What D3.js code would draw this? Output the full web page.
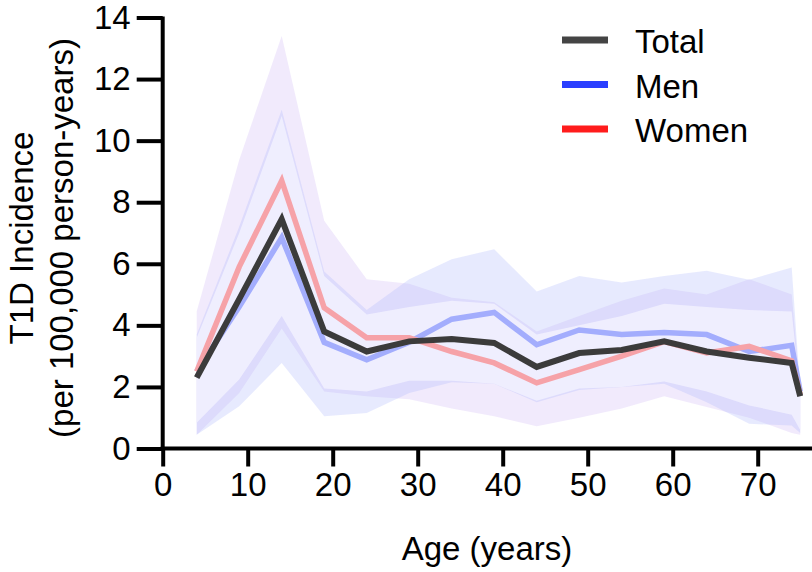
<!DOCTYPE html>
<html>
<head>
<meta charset="utf-8">
<script src="https://cdn.jsdelivr.net/npm/d3@7"></script>
<style>
  html, body { margin: 0; padding: 0; background: #fff; }
  svg { display: block; }
  text { font-family: "Liberation Sans", Arial, Helvetica, sans-serif; fill: #000; }
</style>
</head>
<body>
<svg id="chart" width="812" height="572"></svg>
<script>
const ages = [4, 9, 14, 19, 24, 29, 34, 39, 44, 49, 54, 59, 64, 69, 74, 75];
const totalVals = [2.3, 4.85, 7.45, 3.8, 3.15, 3.48, 3.56, 3.43, 2.65, 3.1, 3.2, 3.48, 3.15, 2.95, 2.78, 1.7];
const menVals   = [2.5, 4.6, 6.85, 3.45, 2.88, 3.45, 4.2, 4.42, 3.37, 3.85, 3.7, 3.77, 3.7, 3.15, 3.35, 1.85];
const womenVals = [2.5, 5.9, 8.7, 4.57, 3.6, 3.6, 3.15, 2.78, 2.13, 2.56, 3.0, 3.47, 3.1, 3.32, 2.85, 1.75];

const totalUpper = [3.6, 7.0, 10.8, 5.6, 4.35, 4.6, 4.8, 4.7, 3.7, 4.0, 4.3, 4.7, 4.6, 4.5, 4.45, 1.8];
const totalLower = [0.84, 2.24, 4.3, 1.95, 1.85, 2.2, 2.2, 2.1, 1.55, 1.95, 2.0, 2.18, 1.85, 1.4, 1.1, 0.6];
const menUpper   = [3.7, 7.2, 11.0, 5.75, 4.5, 5.5, 6.15, 6.47, 5.1, 5.6, 5.39, 5.6, 5.77, 5.48, 5.88, 1.9];
const menLower   = [0.45, 1.37, 2.78, 1.05, 1.15, 1.8, 2.15, 2.1, 1.5, 1.9, 2.0, 2.1, 1.5, 0.8, 0.75, 0.5];
const womenUpper = [4.45, 9.37, 13.4, 7.4, 5.5, 5.35, 4.9, 4.75, 3.8, 4.3, 4.8, 5.2, 5.0, 5.5, 5.0, 1.9];
const womenLower = [0.45, 1.8, 3.9, 1.85, 1.7, 1.6, 1.3, 1.05, 0.72, 1.0, 1.3, 1.7, 1.35, 1.0, 0.5, 0.45];

const xTicks = [0, 10, 20, 30, 40, 50, 60, 70];
const yTicks = [0, 2, 4, 6, 8, 10, 12, 14];
const legendLabels = ["Total", "Men", "Women"];

const svg = d3.select("#chart");
const x = d3.scaleLinear().domain([0, 76.5]).range([162.7, 812.95]);
const y = d3.scaleLinear().domain([0, 14]).range([448.5, 17.5]);

function bandData(lo, hi) { return ages.map((a, i) => ({ a, lo: lo[i], hi: hi[i] })); }
const area = d3.area().x(d => x(d.a)).y0(d => y(d.lo)).y1(d => y(d.hi));

// confidence bands
svg.append("path").attr("d", area(bandData(womenLower, womenUpper)))
  .attr("fill", "rgb(200,170,245)").attr("fill-opacity", 0.25);
svg.append("path").attr("d", area(bandData(menLower, menUpper)))
  .attr("fill", "rgb(170,180,250)").attr("fill-opacity", 0.28);
svg.append("path").attr("d", area(bandData(totalLower, totalUpper)))
  .attr("fill", "#f1effe").attr("fill-opacity", 0.9);

const line = d3.line().x(d => x(d.a)).y(d => y(d.v));
function lineData(vals) { return ages.map((a, i) => ({ a, v: vals[i] })); }

svg.append("path").attr("d", line(lineData(menVals)))
  .attr("fill", "none").attr("stroke", "#a3adfd").attr("stroke-width", 5.5).attr("stroke-linejoin", "miter");
svg.append("path").attr("d", line(lineData(womenVals)))
  .attr("fill", "none").attr("stroke", "#f6a2a8").attr("stroke-width", 5.5).attr("stroke-linejoin", "miter");
svg.append("path").attr("d", line(lineData(totalVals)))
  .attr("fill", "none").attr("stroke", "#3b3b3b").attr("stroke-width", 6).attr("stroke-linejoin", "miter");

// axes
const xAxis = svg.append("g").attr("transform", `translate(0,${y(0)})`)
  .call(d3.axisBottom(x).tickValues(xTicks).tickSize(18).tickPadding(6).tickSizeOuter(0));
const yAxis = svg.append("g").attr("transform", `translate(${x(0)},0)`)
  .call(d3.axisLeft(y).tickValues(yTicks).tickSize(26).tickPadding(6).tickSizeOuter(0));

[xAxis, yAxis].forEach(g => {
  g.select(".domain").attr("stroke", "#000").attr("stroke-width", 4);
  g.selectAll(".tick line").attr("stroke", "#000").attr("stroke-width", 4);
  g.selectAll(".tick text").attr("font-size", 33).attr("fill", "#000")
    .attr("font-family", "'Liberation Sans', Arial, sans-serif");
});
xAxis.select(".domain").attr("d", `M${x(0) - 2},0H812`);
yAxis.select(".domain").attr("d", `M0,${y(14) - 1}V${y(0) + 2}`);
xAxis.selectAll(".tick text").attr("dy", "0.72em");

// axis titles
svg.append("text").attr("x", 487).attr("y", 560).attr("text-anchor", "middle")
  .attr("font-size", 33).text("Age (years)");
const yt = svg.append("text").attr("transform", "translate(33,238) rotate(-90)")
  .attr("text-anchor", "middle").attr("font-size", 33);
yt.append("tspan").attr("x", 0).attr("y", 0).text("T1D Incidence");
yt.append("tspan").attr("x", 0).attr("y", 40).text("(per 100,000 person-years)");

// legend
const legendColors = ["#444444", "#2a3fff", "#ff1c1c"];
const legendY = [40, 84.5, 129];
legendLabels.forEach((lab, i) => {
  svg.append("line").attr("x1", 562).attr("x2", 608).attr("y1", legendY[i]).attr("y2", legendY[i])
    .attr("stroke", legendColors[i]).attr("stroke-width", 7);
  svg.append("text").attr("x", 635).attr("y", legendY[i] + 13).attr("font-size", 33).text(lab);
});
</script>
</body>
</html>
